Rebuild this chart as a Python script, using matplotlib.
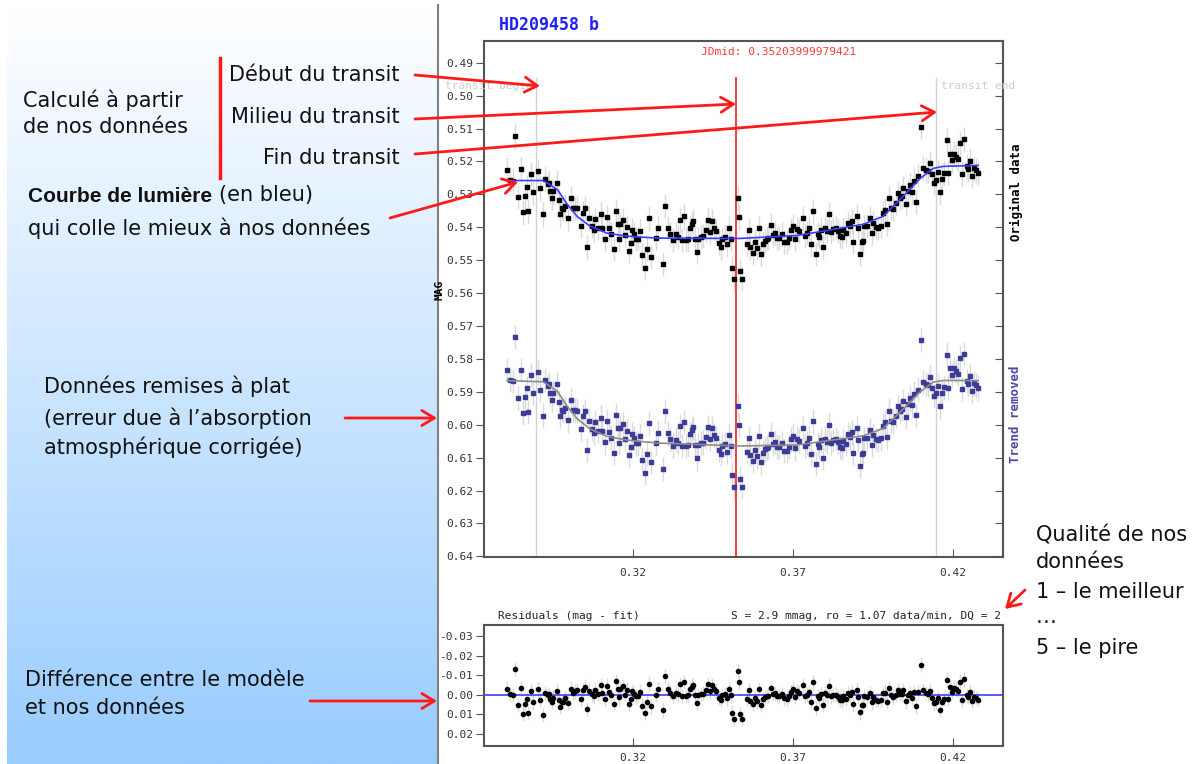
import matplotlib.pyplot as plt
import numpy as np
from matplotlib.ticker import FormatStrFormatter

plt.rcParams['font.family'] = ['DejaVu Sans Mono']
plt.rcParams['axes.unicode_minus'] = False
SANS = ['DejaVu Sans']
SANS_BOLD = ['Liberation Sans', 'DejaVu Sans']

# instants des mesures (fraction de JD) et magnitudes brutes
time = [
    0.2806, 0.2816, 0.2825, 0.2831, 0.2841, 0.2850, 0.2856, 0.2863, 0.2869, 0.2872,
    0.2881, 0.2888, 0.2903, 0.2909, 0.2919, 0.2925, 0.2934, 0.2938, 0.2941, 0.2947,
    0.2950, 0.2963, 0.2969, 0.2972, 0.2978, 0.2981, 0.2988, 0.2997, 0.3006, 0.3013,
    0.3019, 0.3025, 0.3038, 0.3044, 0.3050, 0.3056, 0.3063, 0.3072, 0.3078, 0.3081,
    0.3091, 0.3100, 0.3103, 0.3113, 0.3119, 0.3125, 0.3131, 0.3141,
    0.3147, 0.3153, 0.3156, 0.3159, 0.3169, 0.3175, 0.3181, 0.3188, 0.3194, 0.3197,
    0.3203, 0.3209, 0.3216, 0.3222, 0.3228, 0.3238, 0.3244, 0.3250, 0.3256, 0.3272,
    0.3278, 0.3294, 0.3300, 0.3309, 0.3316, 0.3325, 0.3334, 0.3341, 0.3347, 0.3353,
    0.3359, 0.3366, 0.3372, 0.3378, 0.3384, 0.3388, 0.3394, 0.3400, 0.3403, 0.3413,
    0.3419, 0.3428, 0.3434, 0.3441, 0.3447, 0.3453, 0.3459, 0.3469, 0.3475, 0.3478,
    0.3488, 0.3494, 0.3500, 0.3506, 0.3509, 0.3516, 0.3528, 0.3531, 0.3534, 0.3541,
    0.3556, 0.3563, 0.3566, 0.3575, 0.3581, 0.3588, 0.3594, 0.3600, 0.3606, 0.3613,
    0.3619, 0.3622, 0.3631, 0.3638, 0.3644, 0.3650, 0.3656, 0.3666, 0.3672, 0.3681,
    0.3688, 0.3694, 0.3700, 0.3706, 0.3713, 0.3719, 0.3731, 0.3738, 0.3744, 0.3750,
    0.3756, 0.3763, 0.3772, 0.3778, 0.3781, 0.3788, 0.3794, 0.3800, 0.3806, 0.3813,
    0.3819, 0.3825, 0.3834, 0.3841, 0.3847, 0.3853, 0.3856, 0.3866, 0.3872, 0.3878,
    0.3884, 0.3888,
    0.3900, 0.3903, 0.3909, 0.3916, 0.3919, 0.3922, 0.3931, 0.3941, 0.3947, 0.3950,
    0.3959, 0.3966, 0.3975, 0.3981, 0.3988, 0.3994, 0.4000, 0.4006, 0.4013, 0.4022,
    0.4028, 0.4034, 0.4041, 0.4044, 0.4053, 0.4059, 0.4066, 0.4072, 0.4078, 0.4084,
    0.4091, 0.4100, 0.4106, 0.4116, 0.4122, 0.4128, 0.4134, 0.4141, 0.4147, 0.4153,
    0.4159, 0.4166, 0.4172, 0.4181, 0.4184, 0.4191, 0.4197, 0.4203, 0.4209, 0.4216,
    0.4222, 0.4228, 0.4234, 0.4244, 0.4247, 0.4253, 0.4259, 0.4266, 0.4272, 0.4278,
]
mag = [
    0.5225, 0.5255, 0.5258, 0.5124, 0.5309, 0.5224, 0.5355, 0.5306, 0.5279, 0.5352,
    0.5239, 0.5294, 0.5230, 0.5282, 0.5361, 0.5252, 0.5270, 0.5264, 0.5291, 0.5312,
    0.5291, 0.5264, 0.5318, 0.5361, 0.5342, 0.5345, 0.5336, 0.5373, 0.5312, 0.5342,
    0.5342, 0.5342, 0.5397, 0.5358, 0.5342, 0.5461, 0.5373, 0.5397, 0.5409, 0.5376,
    0.5403, 0.5361, 0.5403, 0.5436, 0.5370, 0.5403, 0.5421, 0.5467,
    0.5352, 0.5391, 0.5436, 0.5391, 0.5379, 0.5424, 0.5400, 0.5473, 0.5448, 0.5409,
    0.5421, 0.5436, 0.5436, 0.5412, 0.5485, 0.5524, 0.5467, 0.5373, 0.5491, 0.5433,
    0.5403, 0.5512, 0.5336, 0.5403, 0.5421, 0.5439, 0.5421, 0.5430, 0.5379, 0.5439,
    0.5367, 0.5439, 0.5436, 0.5403, 0.5391, 0.5382, 0.5436, 0.5476, 0.5436, 0.5430,
    0.5427, 0.5409, 0.5379, 0.5415, 0.5382, 0.5403, 0.5412, 0.5448, 0.5461, 0.5436,
    0.5430, 0.5452, 0.5403, 0.5436, 0.5524, 0.5558, 0.5312, 0.5370, 0.5533, 0.5558,
    0.5452, 0.5409, 0.5461, 0.5479, 0.5445, 0.5464, 0.5403, 0.5482, 0.5452, 0.5442,
    0.5436, 0.5433, 0.5394, 0.5424, 0.5418, 0.5433, 0.5433, 0.5421, 0.5445, 0.5445,
    0.5433, 0.5409, 0.5397, 0.5436, 0.5406, 0.5412, 0.5373, 0.5427, 0.5418, 0.5403,
    0.5452, 0.5352, 0.5482, 0.5421, 0.5430, 0.5409, 0.5461, 0.5403, 0.5412, 0.5361,
    0.5415, 0.5406, 0.5403, 0.5412, 0.5427, 0.5430, 0.5409, 0.5418, 0.5388, 0.5397,
    0.5382, 0.5445,
    0.5367, 0.5403, 0.5482, 0.5445, 0.5442, 0.5397, 0.5397, 0.5373, 0.5418, 0.5388,
    0.5400, 0.5403, 0.5397, 0.5358, 0.5348, 0.5391, 0.5312, 0.5342, 0.5345, 0.5327,
    0.5297, 0.5312, 0.5306, 0.5282, 0.5330, 0.5291, 0.5273, 0.5294, 0.5258, 0.5324,
    0.5245, 0.5094, 0.5221, 0.5227, 0.5230, 0.5206, 0.5239, 0.5264, 0.5255, 0.5233,
    0.5294, 0.5252, 0.5236, 0.5136, 0.5236, 0.5176, 0.5197, 0.5176, 0.5185, 0.5194,
    0.5145, 0.5239, 0.5133, 0.5215, 0.5224, 0.5200, 0.5245, 0.5221, 0.5227, 0.5236,
]
mag_err = 0.0037

# modèle ajusté (courbe de transit)
fit_time = [0.2806, 0.2919, 0.2963, 0.2994, 0.3025, 0.3066, 0.3119, 0.3181, 0.3275,
            0.3534, 0.3713, 0.3919, 0.3981, 0.4044, 0.4097, 0.4138, 0.4169, 0.4278]
fit_mag = [0.5258, 0.5258, 0.5285, 0.5330, 0.5367, 0.5397, 0.5418, 0.5427, 0.5433,
           0.5434, 0.5425, 0.5391, 0.5367, 0.5306, 0.5252, 0.5221, 0.5215, 0.5212]

# tendance linéaire (absorption atmosphérique) retirée
trend_offset = 0.0608
trend_slope = 0.0312

jd_mid = 0.35203999979421
transit_begin = 0.2897
transit_end = 0.4147

time_ticks = [0.32, 0.37, 0.42]
mag_ticks = [0.49, 0.50, 0.51, 0.52, 0.53, 0.54, 0.55, 0.56,
             0.57, 0.58, 0.59, 0.60, 0.61, 0.62, 0.63, 0.64]
res_ticks = [-0.03, -0.02, -0.01, 0.00, 0.01, 0.02]

W, H = 1195, 764
fig = plt.figure(figsize=(W / 100, H / 100), dpi=100)


def px_box(x0, y0, x1, y1):
    return [x0 / W, 1 - y1 / H, (x1 - x0) / W, (y1 - y0) / H]


# panneau de gauche en dégradé
bg = fig.add_axes(px_box(7, 5, 438, H))
g = np.linspace(0, 1, 256)[:, None, None]
top_col = np.array([1.0, 1.0, 1.0])
bot_col = np.array([0.60, 0.80, 1.0])
bg.imshow(top_col + (bot_col - top_col) * g, aspect='auto', extent=[0, 1, 0, 1])
bg.set_xlim(0, 1)
bg.set_ylim(0, 1)
bg.axis('off')

t = np.array(time)
m = np.array(mag)
fit_t = np.array(fit_time)
fit_m = np.array(fit_mag)
resid = m - np.interp(t, fit_t, fit_m)
flat = m + trend_offset + trend_slope * (t - time[0])
fit_flat = fit_m + trend_offset + trend_slope * (fit_t - time[0])

FRAME = '#555555'
XLIM = (0.2734, 0.4356)


def style_frame(a):
    for s in a.spines.values():
        s.set_color(FRAME)
        s.set_linewidth(1.5)
    a.tick_params(colors=FRAME, labelcolor='#333333', labelsize=8)
    a.tick_params(axis='x', direction='in', length=6, pad=8, top=False)
    a.tick_params(axis='y', direction='out', length=6, pad=2, right=False)


# courbe de lumière
ax = fig.add_axes(px_box(484, 41, 1003, 557))
ax.errorbar(t, m, yerr=mag_err, fmt='none', ecolor='#dadada', elinewidth=1, zorder=1)
ax.errorbar(t, flat, yerr=mag_err, fmt='none', ecolor='#dadada', elinewidth=1, zorder=1)
ax.axvline(jd_mid, ymax=0.928, color='#ff2b2b', lw=1.3, zorder=2)
for x in (transit_begin, transit_end):
    ax.axvline(x, ymax=0.928, color='#d2d2d2', lw=1, zorder=0)
ax.plot(t, m, 's', color='black', ms=3.3, zorder=3)
ax.plot(t, flat, 's', color='#3b3b98', ms=3.3, zorder=3)
ax.plot(fit_t, fit_m, color='#3c3cff', lw=1.2, zorder=4)
ax.plot(fit_t, fit_flat, color='#8c8c8c', lw=1.2, zorder=4)
ax.set_xlim(*XLIM)
ax.set_ylim(0.6402, 0.4834)
ax.set_xticks(time_ticks)
ax.set_yticks(mag_ticks)
ax.yaxis.set_major_formatter(FormatStrFormatter('%.2f'))
style_frame(ax)
sec = ax.secondary_yaxis('right')
sec.set_yticks(mag_ticks)
sec.tick_params(direction='in', length=6, labelright=False, colors=FRAME)
sec.spines['right'].set_color(FRAME)
sec.spines['right'].set_linewidth(1.5)

# résidus
axr = fig.add_axes(px_box(484, 625, 1003, 746))
axr.errorbar(t, resid, yerr=mag_err, fmt='none', ecolor='#dadada', elinewidth=1, zorder=1)
axr.axhline(0, color='#3c3cff', lw=1.2, zorder=2)
axr.plot(t, resid, 'o', color='black', ms=3, zorder=3)
axr.set_xlim(*XLIM)
axr.set_ylim(0.0262, -0.0359)
axr.set_xticks(time_ticks)
axr.set_yticks(res_ticks)
axr.yaxis.set_major_formatter(FormatStrFormatter('%.2f'))
style_frame(axr)
axr.tick_params(axis='x', pad=5)

# calque d'annotations en pixels
ov = fig.add_axes([0, 0, 1, 1], zorder=10)
ov.set_xlim(0, W)
ov.set_ylim(H, 0)
ov.axis('off')

ov.plot([438, 438], [5, H], color='#808080', lw=1.5)

ov.text(499, 25, 'HD209458 b', fontsize=12, weight='bold', color='#1f1fff', va='center')
ov.text(701, 52, 'JDmid: 0.35203999979421', fontsize=8, color='#ff3b3b', va='center')
ov.text(533, 86, 'transit begin', fontsize=8, color='#cdcdcd', va='center', ha='right')
ov.text(941, 86, 'transit end', fontsize=8, color='#cdcdcd', va='center')
ov.text(440, 290, 'MAG', fontsize=8, weight='bold', rotation=90, va='center', ha='center')
ov.text(1016, 192, 'Original data', fontsize=9, weight='bold', rotation=90,
        va='center', ha='center')
ov.text(1016, 414, 'Trend removed', fontsize=9, weight='bold', rotation=90,
        va='center', ha='center', color='#4a4aa5')
ov.text(498, 616, 'Residuals (mag - fit)', fontsize=8, color='#222222', va='center')
ov.text(1001, 616, 'S = 2.9 mmag, ro = 1.07 data/min, DQ = 2', fontsize=8,
        color='#222222', va='center', ha='right')

# textes explicatifs
TXT = dict(family=SANS, fontsize=15, color='#111111', va='center')
ov.text(23, 100, 'Calculé à partir', **TXT)
ov.text(23, 127, 'de nos données', **TXT)
ov.plot([220, 220], [58, 178], color='#ff1a1a', lw=2.5)
ov.text(400, 75, 'Début du transit', ha='right', **TXT)
ov.text(400, 117, 'Milieu du transit', ha='right', **TXT)
ov.text(400, 158, 'Fin du transit', ha='right', **TXT)
bold = ov.text(28, 196, 'Courbe de lumière', weight='bold', family=SANS_BOLD,
               fontsize=15, color='#111111', va='center')
ov.annotate('(en bleu)', xy=(1, 0), xycoords=bold, xytext=(5, 0),
            textcoords='offset points', family=SANS, fontsize=15,
            color='#111111', va='bottom')
ov.text(28, 228, 'qui colle le mieux à nos données', **TXT)
ov.text(44, 386, 'Données remises à plat', **TXT)
ov.text(44, 418, '(erreur due à l’absorption', **TXT)
ov.text(44, 447, 'atmosphérique corrigée)', **TXT)
ov.text(25, 680, 'Différence entre le modèle', **TXT)
ov.text(25, 708, 'et nos données', **TXT)
ov.text(1036, 535, 'Qualité de nos', **TXT)
ov.text(1036, 562, 'données', **TXT)
ov.text(1036, 592, '1 – le meilleur', **TXT)
ov.text(1036, 617, '…', **TXT)
ov.text(1036, 648, '5 – le pire', **TXT)

arrows = [
    ((415, 75), (540, 86)),
    ((415, 119), (736, 104)),
    ((415, 154), (937, 112)),
    ((390, 218), (518, 182)),
    ((345, 418), (437, 418)),
    ((310, 701), (437, 701)),
    ((1025, 590), (1005, 609)),
]
for start, end in arrows:
    ov.annotate('', xy=end, xytext=start,
                arrowprops=dict(arrowstyle='->,head_length=0.5,head_width=0.3',
                                color='#ff1a1a', lw=2, mutation_scale=18,
                                shrinkA=0, shrinkB=0))

plt.savefig('out.png', dpi=100)
